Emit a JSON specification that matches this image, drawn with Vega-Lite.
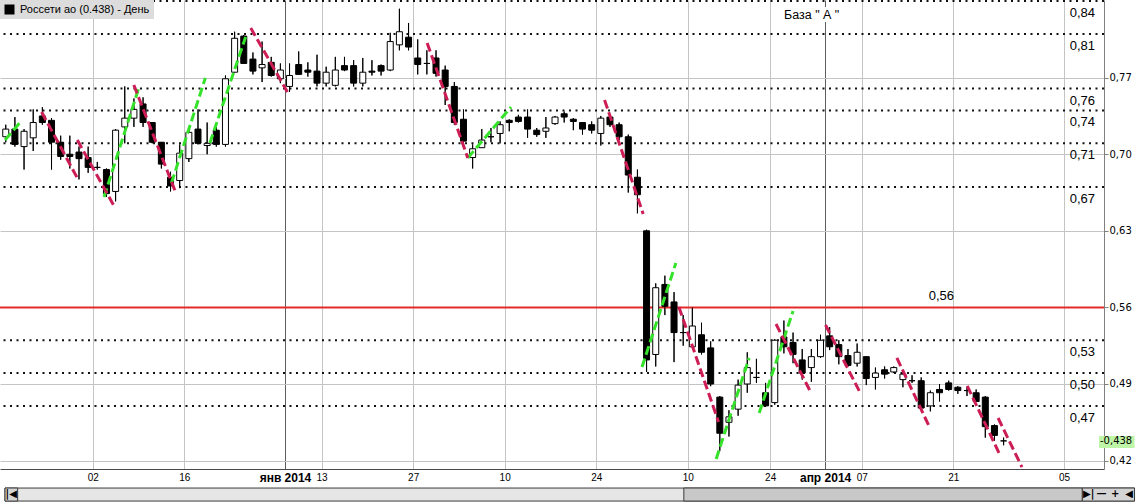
{
  "$schema": "https://vega.github.io/schema/vega-lite/v6.json",
  "width": 1104,
  "height": 469,
  "autosize": {"type": "none"},
  "padding": {"left": 0, "top": 0, "right": 35, "bottom": 33},
  "background": "white",
  "config": {
    "view": {"stroke": null},
    "font": "Liberation Sans",
    "legend": {
      "orient": "top-left",
      "offset": 0,
      "padding": 4,
      "fillColor": "#dcdcdc",
      "symbolType": "square",
      "symbolSize": 100,
      "symbolStrokeWidth": 0,
      "labelFont": "Liberation Sans",
      "labelFontSize": 11,
      "labelColor": "#000000",
      "labelOffset": 5,
      "labelLimit": 400,
      "title": null
    }
  },
  "datasets": {
    "candles": [
      {"i":0,"o":0.716,"h":0.727,"l":0.711,"c":0.723},
      {"i":1,"o":0.723,"h":0.734,"l":0.707,"c":0.709},
      {"i":2,"o":0.707,"h":0.723,"l":0.686,"c":0.721},
      {"i":3,"o":0.715,"h":0.741,"l":0.703,"c":0.729},
      {"i":4,"o":0.735,"h":0.743,"l":0.727,"c":0.729},
      {"i":5,"o":0.731,"h":0.733,"l":0.686,"c":0.711},
      {"i":6,"o":0.711,"h":0.717,"l":0.695,"c":0.698},
      {"i":7,"o":0.700,"h":0.717,"l":0.687,"c":0.698},
      {"i":8,"o":0.702,"h":0.707,"l":0.677,"c":0.696},
      {"i":9,"o":0.697,"h":0.707,"l":0.683,"c":0.688},
      {"i":10,"o":0.688,"h":0.693,"l":0.686,"c":0.688},
      {"i":11,"o":0.686,"h":0.687,"l":0.661,"c":0.664},
      {"i":12,"o":0.666,"h":0.723,"l":0.657,"c":0.722},
      {"i":13,"o":0.725,"h":0.762,"l":0.710,"c":0.733},
      {"i":14,"o":0.733,"h":0.751,"l":0.725,"c":0.741},
      {"i":15,"o":0.746,"h":0.752,"l":0.725,"c":0.729},
      {"i":16,"o":0.729,"h":0.729,"l":0.710,"c":0.711},
      {"i":17,"o":0.711,"h":0.711,"l":0.687,"c":0.691},
      {"i":18,"o":0.679,"h":0.684,"l":0.666,"c":0.671},
      {"i":19,"o":0.676,"h":0.709,"l":0.669,"c":0.701},
      {"i":20,"o":0.696,"h":0.722,"l":0.693,"c":0.720},
      {"i":21,"o":0.723,"h":0.741,"l":0.709,"c":0.710},
      {"i":22,"o":0.708,"h":0.729,"l":0.700,"c":0.710},
      {"i":23,"o":0.722,"h":0.725,"l":0.707,"c":0.709},
      {"i":24,"o":0.709,"h":0.772,"l":0.707,"c":0.769},
      {"i":25,"o":0.775,"h":0.812,"l":0.775,"c":0.806},
      {"i":26,"o":0.808,"h":0.809,"l":0.783,"c":0.783},
      {"i":27,"o":0.787,"h":0.793,"l":0.773,"c":0.776},
      {"i":28,"o":0.779,"h":0.803,"l":0.766,"c":0.782},
      {"i":29,"o":0.784,"h":0.789,"l":0.771,"c":0.772},
      {"i":30,"o":0.769,"h":0.783,"l":0.765,"c":0.777},
      {"i":31,"o":0.762,"h":0.783,"l":0.757,"c":0.772},
      {"i":32,"o":0.782,"h":0.794,"l":0.775,"c":0.773},
      {"i":33,"o":0.777,"h":0.784,"l":0.771,"c":0.775},
      {"i":34,"o":0.776,"h":0.791,"l":0.762,"c":0.765},
      {"i":35,"o":0.765,"h":0.780,"l":0.762,"c":0.775},
      {"i":36,"o":0.763,"h":0.789,"l":0.762,"c":0.777},
      {"i":37,"o":0.781,"h":0.789,"l":0.776,"c":0.777},
      {"i":38,"o":0.781,"h":0.786,"l":0.762,"c":0.765},
      {"i":39,"o":0.765,"h":0.788,"l":0.762,"c":0.775},
      {"i":40,"o":0.776,"h":0.786,"l":0.772,"c":0.775},
      {"i":41,"o":0.781,"h":0.782,"l":0.772,"c":0.776},
      {"i":42,"o":0.777,"h":0.811,"l":0.776,"c":0.803},
      {"i":43,"o":0.800,"h":0.833,"l":0.795,"c":0.812},
      {"i":44,"o":0.807,"h":0.820,"l":0.795,"c":0.798},
      {"i":45,"o":0.788,"h":0.805,"l":0.773,"c":0.782},
      {"i":46,"o":0.783,"h":0.795,"l":0.773,"c":0.783},
      {"i":47,"o":0.788,"h":0.795,"l":0.771,"c":0.774},
      {"i":48,"o":0.777,"h":0.781,"l":0.745,"c":0.762},
      {"i":49,"o":0.762,"h":0.766,"l":0.727,"c":0.729},
      {"i":50,"o":0.732,"h":0.741,"l":0.710,"c":0.712},
      {"i":51,"o":0.697,"h":0.709,"l":0.687,"c":0.705},
      {"i":52,"o":0.706,"h":0.723,"l":0.706,"c":0.713},
      {"i":53,"o":0.716,"h":0.724,"l":0.711,"c":0.716},
      {"i":54,"o":0.719,"h":0.730,"l":0.710,"c":0.727},
      {"i":55,"o":0.731,"h":0.732,"l":0.721,"c":0.729},
      {"i":56,"o":0.734,"h":0.736,"l":0.729,"c":0.730},
      {"i":57,"o":0.734,"h":0.741,"l":0.715,"c":0.723},
      {"i":58,"o":0.722,"h":0.724,"l":0.716,"c":0.718},
      {"i":59,"o":0.721,"h":0.734,"l":0.715,"c":0.724},
      {"i":60,"o":0.728,"h":0.735,"l":0.727,"c":0.734},
      {"i":61,"o":0.737,"h":0.739,"l":0.729,"c":0.734},
      {"i":62,"o":0.732,"h":0.733,"l":0.722,"c":0.730},
      {"i":63,"o":0.729,"h":0.729,"l":0.718,"c":0.723},
      {"i":64,"o":0.727,"h":0.730,"l":0.719,"c":0.722},
      {"i":65,"o":0.719,"h":0.735,"l":0.708,"c":0.733},
      {"i":66,"o":0.734,"h":0.735,"l":0.725,"c":0.727},
      {"i":67,"o":0.727,"h":0.729,"l":0.713,"c":0.716},
      {"i":68,"o":0.716,"h":0.718,"l":0.665,"c":0.681},
      {"i":69,"o":0.679,"h":0.686,"l":0.646,"c":0.663},
      {"i":70,"o":0.630,"h":0.631,"l":0.501,"c":0.512},
      {"i":71,"o":0.517,"h":0.582,"l":0.506,"c":0.578},
      {"i":72,"o":0.581,"h":0.589,"l":0.553,"c":0.561},
      {"i":73,"o":0.565,"h":0.574,"l":0.510,"c":0.537},
      {"i":74,"o":0.537,"h":0.553,"l":0.525,"c":0.537},
      {"i":75,"o":0.524,"h":0.560,"l":0.524,"c":0.543},
      {"i":76,"o":0.535,"h":0.546,"l":0.517,"c":0.519},
      {"i":77,"o":0.523,"h":0.529,"l":0.488,"c":0.490},
      {"i":78,"o":0.478,"h":0.479,"l":0.429,"c":0.445},
      {"i":79,"o":0.455,"h":0.466,"l":0.442,"c":0.460},
      {"i":80,"o":0.467,"h":0.494,"l":0.461,"c":0.489},
      {"i":81,"o":0.490,"h":0.519,"l":0.482,"c":0.505},
      {"i":82,"o":0.496,"h":0.513,"l":0.491,"c":0.496},
      {"i":83,"o":0.482,"h":0.491,"l":0.470,"c":0.470},
      {"i":84,"o":0.473,"h":0.531,"l":0.471,"c":0.530},
      {"i":85,"o":0.533,"h":0.548,"l":0.518,"c":0.524},
      {"i":86,"o":0.528,"h":0.537,"l":0.509,"c":0.517},
      {"i":87,"o":0.512,"h":0.522,"l":0.494,"c":0.500},
      {"i":88,"o":0.505,"h":0.522,"l":0.492,"c":0.515},
      {"i":89,"o":0.515,"h":0.535,"l":0.514,"c":0.530},
      {"i":90,"o":0.534,"h":0.542,"l":0.521,"c":0.524},
      {"i":91,"o":0.526,"h":0.530,"l":0.508,"c":0.515},
      {"i":92,"o":0.516,"h":0.522,"l":0.506,"c":0.507},
      {"i":93,"o":0.509,"h":0.527,"l":0.506,"c":0.519},
      {"i":94,"o":0.515,"h":0.515,"l":0.489,"c":0.495},
      {"i":95,"o":0.496,"h":0.505,"l":0.485,"c":0.500},
      {"i":96,"o":0.503,"h":0.506,"l":0.495,"c":0.499},
      {"i":97,"o":0.501,"h":0.506,"l":0.500,"c":0.505},
      {"i":98,"o":0.494,"h":0.503,"l":0.487,"c":0.499},
      {"i":99,"o":0.493,"h":0.498,"l":0.491,"c":0.493},
      {"i":100,"o":0.493,"h":0.496,"l":0.466,"c":0.468},
      {"i":101,"o":0.470,"h":0.484,"l":0.465,"c":0.482},
      {"i":102,"o":0.485,"h":0.490,"l":0.474,"c":0.482},
      {"i":103,"o":0.491,"h":0.493,"l":0.484,"c":0.485},
      {"i":104,"o":0.487,"h":0.488,"l":0.481,"c":0.484},
      {"i":105,"o":0.484,"h":0.487,"l":0.479,"c":0.484},
      {"i":106,"o":0.482,"h":0.485,"l":0.474,"c":0.474},
      {"i":107,"o":0.478,"h":0.479,"l":0.441,"c":0.451},
      {"i":108,"o":0.452,"h":0.453,"l":0.438,"c":0.443},
      {"i":109,"o":0.438,"h":0.441,"l":0.434,"c":0.438}
    ],
    "trends": [
      {"k":"up","i":-0.08,"v":0.713,"i2":1.76,"v2":0.731},
      {"k":"up","i":10.74,"v":0.661,"i2":14.53,"v2":0.7606},
      {"k":"up","i":18.1,"v":0.6737,"i2":21.8,"v2":0.7697},
      {"k":"up","i":22.3,"v":0.7103,"i2":26.2,"v2":0.8072},
      {"k":"up","i":50.47,"v":0.6966,"i2":55.2,"v2":0.7432},
      {"k":"up","i":69.5,"v":0.5055,"i2":73.2,"v2":0.6006},
      {"k":"up","i":77.6,"v":0.4214,"i2":81.2,"v2":0.5138},
      {"k":"up","i":82.3,"v":0.4635,"i2":86.0,"v2":0.5567},
      {"k":"dn","i":3.92,"v":0.7386,"i2":7.82,"v2":0.6783},
      {"k":"dn","i":7.82,"v":0.713,"i2":11.83,"v2":0.6527},
      {"k":"dn","i":13.99,"v":0.7633,"i2":18.54,"v2":0.6655},
      {"k":"dn","i":26.76,"v":0.8154,"i2":30.77,"v2":0.7569},
      {"k":"dn","i":46.03,"v":0.8017,"i2":50.47,"v2":0.6966},
      {"k":"dn","i":65.41,"v":0.7496,"i2":69.63,"v2":0.6454},
      {"k":"dn","i":73.53,"v":0.5604,"i2":77.86,"v2":0.4553},
      {"k":"dn","i":84.14,"v":0.5448,"i2":87.92,"v2":0.4827},
      {"k":"dn","i":89.55,"v":0.5439,"i2":93.34,"v2":0.4818},
      {"k":"dn","i":97.34,"v":0.5138,"i2":100.9,"v2":0.4507},
      {"k":"dn","i":105.03,"v":0.4882,"i2":108.6,"v2":0.4251},
      {"k":"dn","i":108.4,"v":0.4589,"i2":111.0,"v2":0.4141}
    ],
    "levels": [
      {"v":0.84,"t":"0,84"},
      {"v":0.81,"t":"0,81"},
      {"v":0.76,"t":"0,76"},
      {"v":0.74,"t":"0,74"},
      {"v":0.71,"t":"0,71"},
      {"v":0.67,"t":"0,67"},
      {"v":0.53,"t":"0,53"},
      {"v":0.50,"t":"0,50"},
      {"v":0.47,"t":"0,47"}
    ],
    "ui": [
      {"part":"track","x1":-0.082,"x2":123.3},
      {"part":"thumb","x1":74.07,"x2":117.6},
      {"part":"btn","x1":-0.082,"x2":1.3},
      {"part":"btn","x1":117.6,"x2":123.3}
    ],
    "uitext": [
      {"x":0.6,"t":"|◀"},
      {"x":118.3,"t":"▶|"},
      {"x":119.7,"t":"—"},
      {"x":121.2,"t":"+"},
      {"x":122.7,"t":"◀"}
    ]
  },
  "layer": [
    {
      "data": {"name": "candles"},
      "mark": {"type": "rule", "color": "#000000", "strokeWidth": 1},
      "encoding": {
        "x": {
          "field": "i", "type": "quantitative",
          "scale": {"domain": [-0.082, 119.42], "nice": false, "zero": false},
          "axis": {
            "title": null,
            "values": [9.5, 19.5, 30.5, 34.5, 44.5, 54.5, 64.5, 74.5, 83.5, 89.5, 93.5, 103.5, 115.6],
            "labelExpr": "datum.value == 9.5 ? '02' : datum.value == 19.5 ? '16' : datum.value == 30.5 ? 'янв 2014' : datum.value == 34.5 ? '13' : datum.value == 44.5 ? '27' : datum.value == 54.5 ? '10' : datum.value == 64.5 ? '24' : datum.value == 74.5 ? '10' : datum.value == 83.5 ? '24' : datum.value == 89.5 ? 'апр 2014' : datum.value == 93.5 ? '07' : datum.value == 103.5 ? '21' : '05'",
            "grid": true,
            "gridColor": {"condition": {"test": "datum.value == 30.5 || datum.value == 89.5", "value": "#5e5e5e"}, "value": "#c4c4c4"},
            "gridWidth": 1,
            "ticks": false,
            "domainColor": "#4a4a4a",
            "labelFont": "Liberation Sans",
            "labelFontSize": {"condition": {"test": "datum.value == 30.5 || datum.value == 89.5", "value": 12}, "value": 10},
            "labelFontWeight": {"condition": {"test": "datum.value == 30.5 || datum.value == 89.5", "value": "bold"}, "value": "normal"},
            "labelColor": "#000000",
            "labelPadding": 3,
            "labelFlush": false,
            "labelOverlap": false
          }
        },
        "y": {
          "field": "l", "type": "quantitative",
          "scale": {"domain": [0.4123, 0.841], "nice": false, "zero": false},
          "axis": {
            "title": null,
            "orient": "right",
            "values": [0.42, 0.49, 0.56, 0.63, 0.70, 0.77],
            "labelExpr": "replace(format(datum.value, '.2f'), '.', ',')",
            "grid": true,
            "gridColor": "#c4c4c4",
            "tickSize": 4,
            "tickColor": "#808080",
            "domainColor": "#808080",
            "labelFont": "DejaVu Sans",
            "labelFontSize": 10,
            "labelColor": "#000000",
            "labelPadding": 1,
            "labelFlush": false,
            "labelOverlap": false
          }
        },
        "y2": {"field": "h"}
      }
    },
    {
      "data": {"name": "levels"},
      "mark": {"type": "rule", "strokeDash": [2, 4.5], "strokeWidth": 2, "color": "#111111"},
      "encoding": {
        "y": {"field": "v", "type": "quantitative", "title": null, "scale": {"domain": [0.4123, 0.841], "nice": false, "zero": false}}
      }
    },
    {
      "data": {"values": [{"v": 0.56}]},
      "mark": {"type": "rule", "strokeWidth": 2, "color": "#e52a2a"},
      "encoding": {
        "y": {"field": "v", "type": "quantitative", "title": null, "scale": {"domain": [0.4123, 0.841], "nice": false, "zero": false}}
      }
    },
    {
      "data": {"name": "candles"},
      "mark": {"type": "rule", "color": "#000000", "strokeWidth": 1},
      "encoding": {
        "x": {"field": "i", "type": "quantitative", "title": null, "scale": {"domain": [-0.082, 119.42], "nice": false, "zero": false}},
        "y": {"field": "l", "type": "quantitative", "title": null, "scale": {"domain": [0.4123, 0.841], "nice": false, "zero": false}},
        "y2": {"field": "h"}
      }
    },
    {
      "data": {"name": "candles"},
      "mark": {"type": "bar", "size": 6, "stroke": "#000000", "strokeWidth": 1},
      "encoding": {
        "x": {"field": "i", "type": "quantitative", "title": null, "scale": {"domain": [-0.082, 119.42], "nice": false, "zero": false}},
        "y": {"field": "o", "type": "quantitative", "title": null, "scale": {"domain": [0.4123, 0.841], "nice": false, "zero": false}},
        "y2": {"field": "c"},
        "fill": {"condition": {"test": "datum.c < datum.o", "value": "#000000"}, "value": "#ffffff"}
      }
    },
    {
      "data": {"name": "trends"},
      "mark": {"type": "rule", "strokeDash": [9, 4], "strokeWidth": 3},
      "encoding": {
        "x": {"field": "i", "type": "quantitative", "title": null, "scale": {"domain": [-0.082, 119.42], "nice": false, "zero": false}},
        "x2": {"field": "i2"},
        "y": {"field": "v", "type": "quantitative", "title": null, "scale": {"domain": [0.4123, 0.841], "nice": false, "zero": false}},
        "y2": {"field": "v2"},
        "stroke": {"condition": {"test": "datum.k == 'up'", "value": "#35e22a"}, "value": "#cc1d55"}
      }
    },
    {
      "data": {"name": "levels"},
      "mark": {"type": "text", "align": "right", "baseline": "middle", "dx": -4, "dy": 12, "fontSize": 13, "font": "Liberation Sans", "color": "#000000"},
      "encoding": {
        "x": {"datum": 119.42, "type": "quantitative", "title": null, "scale": {"domain": [-0.082, 119.42], "nice": false, "zero": false}},
        "y": {"field": "v", "type": "quantitative", "title": null, "scale": {"domain": [0.4123, 0.841], "nice": false, "zero": false}},
        "text": {"field": "t"}
      }
    },
    {
      "data": {"values": [{"i": 102.2, "v": 0.56, "t": "0,56"}]},
      "mark": {"type": "text", "align": "center", "baseline": "middle", "dy": -11, "fontSize": 13, "font": "Liberation Sans", "color": "#000000"},
      "encoding": {
        "x": {"field": "i", "type": "quantitative", "title": null, "scale": {"domain": [-0.082, 119.42], "nice": false, "zero": false}},
        "y": {"field": "v", "type": "quantitative", "title": null, "scale": {"domain": [0.4123, 0.841], "nice": false, "zero": false}},
        "text": {"field": "t"}
      }
    },
    {
      "data": {"values": [{"x1": 84.7, "x2": 91.4, "v1": 0.8346, "v2": 0.8209}]},
      "mark": {"type": "rect", "color": "#ffffff"},
      "encoding": {
        "x": {"field": "x1", "type": "quantitative", "title": null, "scale": {"domain": [-0.082, 119.42], "nice": false, "zero": false}},
        "x2": {"field": "x2"},
        "y": {"field": "v1", "type": "quantitative", "title": null, "scale": {"domain": [0.4123, 0.841], "nice": false, "zero": false}},
        "y2": {"field": "v2"}
      }
    },
    {
      "data": {"values": [{"i": 88.03, "v": 0.8273, "t": "База \" А \""}]},
      "mark": {"type": "text", "align": "center", "baseline": "middle", "fontSize": 12.5, "font": "Liberation Sans", "color": "#000000"},
      "encoding": {
        "x": {"field": "i", "type": "quantitative", "title": null, "scale": {"domain": [-0.082, 119.42], "nice": false, "zero": false}},
        "y": {"field": "v", "type": "quantitative", "title": null, "scale": {"domain": [0.4123, 0.841], "nice": false, "zero": false}},
        "text": {"field": "t"}
      }
    },
    {
      "data": {"values": [{"x1": 119.42, "x2": 123.3, "v1": 0.4425, "v2": 0.4315}]},
      "mark": {"type": "rect", "color": "#bff5a6"},
      "encoding": {
        "x": {"field": "x1", "type": "quantitative", "title": null, "scale": {"domain": [-0.082, 119.42], "nice": false, "zero": false}},
        "x2": {"field": "x2"},
        "y": {"field": "v1", "type": "quantitative", "title": null, "scale": {"domain": [0.4123, 0.841], "nice": false, "zero": false}},
        "y2": {"field": "v2"}
      }
    },
    {
      "data": {"values": [{"i": 119.42, "v": 0.438, "t": "-0,438"}]},
      "mark": {"type": "text", "align": "left", "baseline": "middle", "dx": 1, "fontSize": 10, "font": "DejaVu Sans", "color": "#000000"},
      "encoding": {
        "x": {"field": "i", "type": "quantitative", "title": null, "scale": {"domain": [-0.082, 119.42], "nice": false, "zero": false}},
        "y": {"field": "v", "type": "quantitative", "title": null, "scale": {"domain": [0.4123, 0.841], "nice": false, "zero": false}},
        "text": {"field": "t"}
      }
    },
    {
      "data": {"name": "ui"},
      "mark": {"type": "rect", "stroke": "#3c3c3c", "strokeWidth": 1},
      "encoding": {
        "x": {"field": "x1", "type": "quantitative", "title": null, "scale": {"domain": [-0.082, 119.42], "nice": false, "zero": false}},
        "x2": {"field": "x2"},
        "y": {"datum": 0.3949, "type": "quantitative", "title": null, "scale": {"domain": [0.4123, 0.841], "nice": false, "zero": false}},
        "y2": {"datum": 0.3830},
        "fill": {"condition": [{"test": "datum.part == 'thumb'", "value": "#c8c8c8"}, {"test": "datum.part == 'btn'", "value": "#d4d4d4"}], "value": "#e6e6e6"}
      }
    },
    {
      "data": {"name": "uitext"},
      "mark": {"type": "text", "align": "center", "baseline": "middle", "fontSize": 10, "fontWeight": "bold", "font": "DejaVu Sans", "color": "#000000"},
      "encoding": {
        "x": {"field": "x", "type": "quantitative", "title": null, "scale": {"domain": [-0.082, 119.42], "nice": false, "zero": false}},
        "y": {"datum": 0.389, "type": "quantitative", "title": null, "scale": {"domain": [0.4123, 0.841], "nice": false, "zero": false}},
        "text": {"field": "t"}
      }
    },
    {
      "data": {"values": [{"i": 1.0, "v": 0.831}]},
      "mark": {"type": "square", "size": 100, "opacity": 1},
      "encoding": {
        "x": {"field": "i", "type": "quantitative", "title": null, "scale": {"domain": [-0.082, 119.42], "nice": false, "zero": false}},
        "y": {"field": "v", "type": "quantitative", "title": null, "scale": {"domain": [0.4123, 0.841], "nice": false, "zero": false}},
        "fill": {"datum": "Россети ао (0.438) - День\u00a0\u00a0\u00a0\u00a0\u00a0\u00a0\u00a0", "type": "nominal", "scale": {"range": ["#000000"]}}
      }
    }
  ]
}
